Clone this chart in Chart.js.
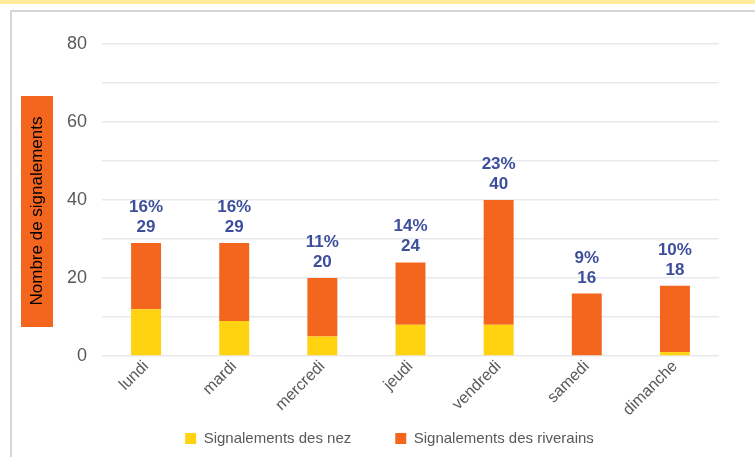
<!DOCTYPE html>
<html lang="fr">
<head>
<meta charset="utf-8">
<title>Signalements par jour</title>
<script src="https://cdn.jsdelivr.net/npm/chart.js@4/dist/chart.umd.min.js"></script>
<style>
  html, body { margin: 0; padding: 0; background: #fff; }
  #wrap { position: relative; width: 755px; height: 457px; overflow: hidden; }
  #bandeau { position: absolute; left: 0; top: 0; width: 755px; height: 4px; background: #ffeb99; }
  #cadre { position: absolute; left: 10px; top: 10px; width: 760px; height: 460px;
           border-left: 2px solid #d6d6d6; border-top: 2px solid #d6d6d6; }
  #graph { position: absolute; left: 0; top: 0; }
</style>
</head>
<body>
<div id="wrap">
  <div id="bandeau"></div>
  <div id="cadre"></div>
  <canvas id="graph" width="755" height="457"></canvas>
</div>
<script>
// --- DONNÉES ---
const jours = ['lundi', 'mardi', 'mercredi', 'jeudi', 'vendredi', 'samedi', 'dimanche'];
const signalementsNez = [12, 9, 5, 8, 8, 0, 1];
const signalementsRiverains = [17, 20, 15, 16, 32, 16, 17];
const pourcentages = ['16%', '16%', '11%', '14%', '23%', '9%', '10%'];
const graduationsY = [0, 20, 40, 60, 80];

const JAUNE = '#ffd30f';
const ORANGE = '#f4661e';
const BLEU = '#3d4f9c';
const GRIS = '#595959';
const POLICE = "'Liberation Sans', Arial, sans-serif";

// étiquettes au-dessus des barres (pourcentage + total)
const etiquettesPlugin = {
    id: 'etiquettes',
    afterDatasetsDraw(chart) {
        const ctx = chart.ctx;
        const meta = chart.getDatasetMeta(1);
        ctx.save();
        ctx.fillStyle = BLEU;
        ctx.font = 'bold 17px ' + POLICE;
        ctx.textAlign = 'center';
        ctx.textBaseline = 'alphabetic';
        meta.data.forEach((bar, i) => {
            const total = signalementsNez[i] + signalementsRiverains[i];
            ctx.fillText(String(total), bar.x, bar.y - 11);
            ctx.fillText(pourcentages[i], bar.x, bar.y - 31);
        });
        ctx.restore();
    }
};

// titre de l'axe Y dans un bandeau orange
const titreAxePlugin = {
    id: 'titreAxe',
    afterDraw(chart) {
        const ctx = chart.ctx;
        ctx.save();
        ctx.fillStyle = ORANGE;
        ctx.fillRect(21, 96, 32, 231);
        ctx.translate(37, 211);
        ctx.rotate(-Math.PI / 2);
        ctx.fillStyle = '#000';
        ctx.font = '17px ' + POLICE;
        ctx.textAlign = 'center';
        ctx.textBaseline = 'middle';
        ctx.fillText('Nombre de signalements', 0, 0);
        ctx.restore();
    }
};

// la légende garde un grand écart entre ses entrées, on la remonte
// (seulement le haut, pour que la zone de clip reste assez grande)
const legendePlugin = {
    id: 'remonteLegende',
    afterLayout(chart) {
        chart.legend.top -= 34;
    }
};

new Chart(document.getElementById('graph'), {
    type: 'bar',
    data: {
        labels: jours,
        datasets: [
            {
                label: 'Signalements des nez',
                data: signalementsNez,
                backgroundColor: JAUNE,
                categoryPercentage: 1,
                barPercentage: 0.34
            },
            {
                label: 'Signalements des riverains',
                data: signalementsRiverains,
                backgroundColor: ORANGE,
                categoryPercentage: 1,
                barPercentage: 0.34
            }
        ]
    },
    options: {
        responsive: false,
        animation: false,
        layout: { padding: { left: 60, right: 36, top: 44, bottom: 0 } },
        plugins: {
            legend: {
                position: 'bottom',
                maxHeight: 36,
                labels: {
                    boxWidth: 11,
                    boxHeight: 11,
                    padding: 44,
                    color: GRIS,
                    font: { family: POLICE, size: 15 }
                }
            },
            tooltip: { enabled: false }
        },
        scales: {
            x: {
                stacked: true,
                grid: { display: false, drawTicks: false },
                border: { display: false },
                ticks: {
                    color: GRIS,
                    font: { family: POLICE, size: 16 },
                    minRotation: 45,
                    maxRotation: 45,
                    padding: 1
                },
                afterFit(s) { s.height = 65; }
            },
            y: {
                stacked: true,
                min: 0,
                max: 80,
                border: { display: false },
                grid: { color: '#e7e9ed', lineWidth: 1.5, drawTicks: false },
                ticks: {
                    stepSize: 10,
                    color: GRIS,
                    font: { family: POLICE, size: 18 },
                    padding: 15,
                    callback: v => graduationsY.includes(v) ? v : ''
                },
                afterFit(s) { s.width = 42; }
            }
        }
    },
    plugins: [etiquettesPlugin, titreAxePlugin, legendePlugin]
});
</script>
</body>
</html>
